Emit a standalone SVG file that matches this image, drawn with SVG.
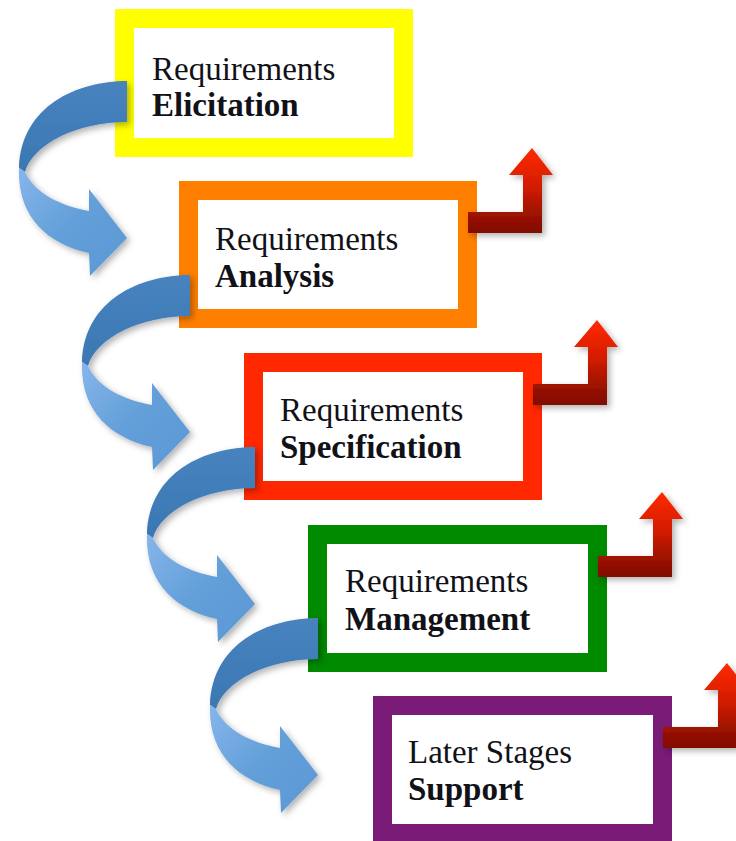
<svg xmlns="http://www.w3.org/2000/svg" xmlns:xlink="http://www.w3.org/1999/xlink" width="736" height="841" viewBox="0 0 736 841">
  <style>
    .frame { fill: #ffffff; stroke-width: 19; }
    .label { font-family: "Liberation Serif", "Times New Roman", serif; font-size: 33px; fill: #111118; }
    .strong { font-weight: bold; }
  </style>
  <defs>
    <filter id="shadow" x="-20%" y="-20%" width="150%" height="150%">
      <feDropShadow dx="3" dy="3" stdDeviation="3" flood-color="#000" flood-opacity="0.3"/>
    </filter>
    <linearGradient id="bandDark" x1="0" y1="0" x2="0" y2="1">
      <stop offset="0" stop-color="#4783bf"/>
      <stop offset="1" stop-color="#3b77b2"/>
    </linearGradient>
    <linearGradient id="bandLight" x1="0" y1="0" x2="1" y2="1">
      <stop offset="0" stop-color="#86b6ea"/>
      <stop offset="0.5" stop-color="#639fd9"/>
      <stop offset="1" stop-color="#5a99d5"/>
    </linearGradient>
    <linearGradient id="exitRed" x1="0" y1="0" x2="0" y2="1">
      <stop offset="0" stop-color="#ff2a00"/>
      <stop offset="0.45" stop-color="#d41c00"/>
      <stop offset="0.75" stop-color="#a01300"/>
      <stop offset="1" stop-color="#800c00"/>
    </linearGradient>
    <!-- twisted ribbon arrow leading to the next stage -->
    <g id="ribbon">
      <path fill="url(#bandDark)" d="M190,275 C140,275 84,300 82,362 L88,366 C96,338 140,316 190,316 Z"/>
      <path fill="url(#bandLight)" d="M82,362 C80,410 110,438 152,447 L153,470 L190,432 L152,383 L152,405 C125,400 98,388 88,366 Z"/>
    </g>
    <!-- bent arrow leaving a stage upwards -->
    <path id="exit" fill="url(#exitRed)" d="M468,212 L523,212 L523,175 L509,175 L532,148 L553,175 L542,175 L542,233 L468,233 Z"/>
  </defs>

  <rect x="0" y="0" width="736" height="841" fill="#ffffff"/>

  <g id="elicitation">
    <rect class="frame" x="124.5" y="18.5" width="279" height="129" stroke="#ffff00"/>
    <text class="label" x="152" y="80">Requirements</text>
    <text class="label strong" x="152" y="116">Elicitation</text>
  </g>

  <g id="analysis">
    <rect class="frame" x="188.5" y="190.5" width="279" height="128" stroke="#ff7f00"/>
    <text class="label" x="215" y="250">Requirements</text>
    <text class="label strong" x="215" y="287">Analysis</text>
  </g>

  <g id="specification">
    <rect class="frame" x="253.5" y="362.5" width="279" height="128" stroke="#ff2800"/>
    <text class="label" x="280" y="421">Requirements</text>
    <text class="label strong" x="280" y="458">Specification</text>
  </g>

  <g id="management">
    <rect class="frame" x="317.5" y="534.5" width="280" height="128" stroke="#008a00"/>
    <text class="label" x="345" y="592">Requirements</text>
    <text class="label strong" x="345" y="630">Management</text>
  </g>

  <g id="support">
    <rect class="frame" x="382.5" y="705.5" width="280" height="128" stroke="#7b1b78"/>
    <text class="label" x="408" y="763">Later Stages</text>
    <text class="label strong" x="408" y="800">Support</text>
  </g>

  <g id="connectors">
    <g filter="url(#shadow)">
      <use xlink:href="#ribbon" transform="translate(-63,-194)"/>
      <use xlink:href="#ribbon"/>
      <use xlink:href="#ribbon" transform="translate(65,172)"/>
      <use xlink:href="#ribbon" transform="translate(128,343)"/>
    </g>
    <g filter="url(#shadow)">
      <use xlink:href="#exit"/>
      <use xlink:href="#exit" transform="translate(65,172)"/>
      <use xlink:href="#exit" transform="translate(130,344)"/>
      <use xlink:href="#exit" transform="translate(195,515)"/>
    </g>
  </g>
</svg>
